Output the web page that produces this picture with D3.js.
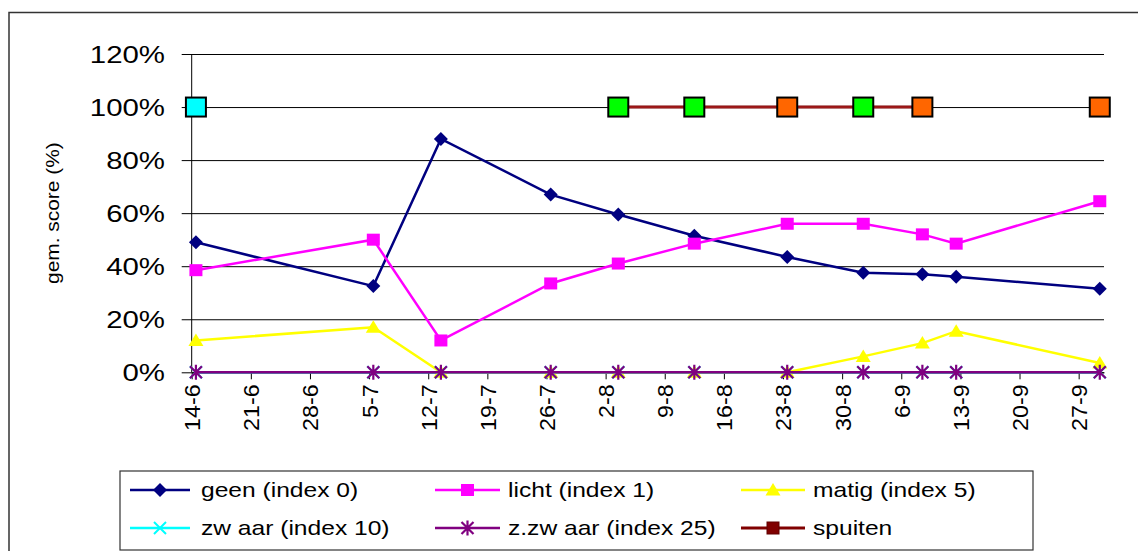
<!DOCTYPE html>
<html>
<head>
<meta charset="utf-8">
<script src="https://cdn.jsdelivr.net/npm/d3@7"></script>
<style>
  html, body { margin: 0; padding: 0; background: #fff; }
  svg { display: block; font-family: "Liberation Sans", Arial, sans-serif; }
</style>
</head>
<body>
<svg id="chart" width="1138" height="551"></svg>
<script>
// Waarnemingsdata per datum (dag-maand), seizoen juni-september
const year = 2007;
const dates = ["14-6", "5-7", "13-7", "26-7", "3-8", "12-8", "23-8", "1-9", "8-9", "12-9", "29-9"];
const geen   = [49, 32.5, 88, 67, 59.5, 51.5, 43.5, 37.5, 37, 36, 31.5];
const licht  = [38.5, 50, 12, 33.5, 41, 48.5, 56, 56, 52, 48.5, 64.5];
const matig  = [12, 17, 0, 0, 0, 0, 0, 6, 11, 15.5, 3.5];
const zwaar  = [0, 0, 0, 0, 0, 0, 0, 0, 0, 0, 0];
const zzwaar = [0, 0, 0, 0, 0, 0, 0, 0, 0, 0, 0];
const spuiten = [100, null, null, null, 100, 100, 100, 100, 100, null, 100];
const spuitType = ["a", null, null, null, "b", "b", "c", "b", "c", null, "c"];

const xTickLabels = ["14-6", "21-6", "28-6", "5-7", "12-7", "19-7", "26-7", "2-8", "9-8",
                     "16-8", "23-8", "30-8", "6-9", "13-9", "20-9", "27-9"];
const xDomain = ["14-6", "30-9"];
const yTicks = [0, 20, 40, 60, 80, 100, 120];

const seriesNames = ["geen (index 0)", "licht (index 1)", "matig (index 5)",
                     "zw aar (index 10)", "z.zw aar (index 25)", "spuiten"];

// ---- opmaak ----
const parse = d3.utcParse("%d-%m-%Y");
const toDate = s => parse(s + "-" + year);
const mid = s => d3.utcHour.offset(toDate(s), 12);   // punt midden op de dag

const X0 = 191.7, X1 = 1104, Y0 = 372.3, Y1 = 54;
const x = d3.scaleUtc().domain(xDomain.map(toDate)).range([X0, X1]);
const y = d3.scaleLinear().domain([0, 120]).range([Y0, Y1]);

const sprayColor = { a: "#00FFFF", b: "#00FF00", c: "#FF6600" };

const series = [
  { name: seriesNames[0], values: geen,   color: "#000080", marker: "diamond" },
  { name: seriesNames[1], values: licht,  color: "#FF00FF", marker: "square" },
  { name: seriesNames[2], values: matig,  color: "#FFFF00", marker: "triangle" },
  { name: seriesNames[3], values: zwaar,  color: "#00FFFF", marker: "x" },
  { name: seriesNames[4], values: zzwaar, color: "#800080", marker: "star" },
  { name: seriesNames[5], values: spuiten, color: "#800000", marker: "bigsquare" }
];

const svg = d3.select("#chart");

// kader om de grafiek
svg.append("rect")
  .attr("x", 9).attr("y", 12.5).attr("width", 1200).attr("height", 600)
  .attr("fill", "#fff").attr("stroke", "#333").attr("stroke-width", 1.5);

// rasterlijnen met uitstekende maatstreepjes
svg.append("g")
  .attr("transform", `translate(${X1},0)`)
  .call(d3.axisLeft(y).tickValues(yTicks).tickSize(X1 - X0 + 10).tickFormat(""))
  .call(g => g.select(".domain").remove())
  .call(g => g.selectAll(".tick line").attr("stroke", "#000").attr("stroke-width", 1));

// y-as lijn
svg.append("line")
  .attr("x1", X0).attr("x2", X0).attr("y1", y(120)).attr("y2", y(0))
  .attr("stroke", "#000").attr("stroke-width", 1);

// y-as labels
svg.append("g").selectAll("text")
  .data(yTicks).join("text")
  .attr("transform", d => `translate(165,${y(d)}) scale(1.2,1)`)
  .attr("text-anchor", "end").attr("dy", "0.36em")
  .attr("font-size", 24.5).attr("fill", "#000")
  .text(d => d + "%");

// y-as titel
svg.append("text")
  .attr("transform", `translate(52,${(Y0 + Y1) / 2}) rotate(-90) scale(1.1,1)`)
  .attr("text-anchor", "middle").attr("dy", "0.35em")
  .attr("font-size", 19).attr("fill", "#000")
  .text("gem. score (%)");

// x-as
const xAxis = svg.append("g")
  .attr("transform", `translate(0,${Y0})`)
  .call(d3.axisBottom(x).tickValues(xTickLabels.map(toDate)).tickSize(7).tickSizeOuter(0)
        .tickFormat(d3.utcFormat("%-d-%-m")));
xAxis.select(".domain").attr("stroke", "#000");
xAxis.selectAll(".tick line").attr("stroke", "#000");
xAxis.selectAll(".tick text")
  .attr("font-family", "Liberation Sans, Arial, sans-serif")
  .attr("font-size", 22).attr("fill", "#000")
  .attr("text-anchor", "end")
  .attr("x", 0).attr("y", 0).attr("dy", "0.36em")
  .attr("transform", "translate(0,12) rotate(-90) scale(1.06,1)");

// markers
function drawMarker(g, type, color, cx, cy, fillOverride) {
  if (type === "diamond") {
    g.append("path").attr("d", `M${cx},${cy - 7}L${cx + 7},${cy}L${cx},${cy + 7}L${cx - 7},${cy}Z`)
      .attr("fill", color);
  } else if (type === "square") {
    g.append("rect").attr("x", cx - 6.5).attr("y", cy - 6).attr("width", 13).attr("height", 12)
      .attr("fill", color);
  } else if (type === "triangle") {
    g.append("path").attr("d", `M${cx},${cy - 7}L${cx + 7.5},${cy + 5.5}L${cx - 7.5},${cy + 5.5}Z`)
      .attr("fill", color);
  } else if (type === "x") {
    g.append("path").attr("d", `M${cx - 6},${cy - 6}L${cx + 6},${cy + 6}M${cx - 6},${cy + 6}L${cx + 6},${cy - 6}`)
      .attr("stroke", color).attr("stroke-width", 2);
  } else if (type === "star") {
    g.append("path").attr("d", `M${cx - 6},${cy - 6}L${cx + 6},${cy + 6}M${cx - 6},${cy + 6}L${cx + 6},${cy - 6}M${cx},${cy - 7.5}L${cx},${cy + 7.5}`)
      .attr("stroke", color).attr("stroke-width", 2.2);
  } else if (type === "bigsquare") {
    g.append("rect").attr("x", cx - 10).attr("y", cy - 9.5).attr("width", 20).attr("height", 19)
      .attr("fill", fillOverride || color).attr("stroke", "#000").attr("stroke-width", 2);
  } else if (type === "legendsquare") {
    g.append("rect").attr("x", cx - 6).attr("y", cy - 6).attr("width", 12).attr("height", 12)
      .attr("fill", color).attr("stroke", "#600000").attr("stroke-width", 1);
  }
}

const plot = svg.append("g");
series.forEach(s => {
  const pts = dates.map((d, i) => ({ date: mid(d), v: s.values[i], i }));
  const line = d3.line()
    .defined(p => p.v !== null)
    .x(p => x(p.date)).y(p => y(p.v));
  if (s.marker === "bigsquare") {
    plot.append("path").datum(pts).attr("d", line)
      .attr("fill", "none").attr("stroke", s.color).attr("stroke-width", 3);
    plot.append("path").datum(pts).attr("d", line)
      .attr("fill", "none").attr("stroke", "#b83030").attr("stroke-width", 1);
  } else {
    plot.append("path").datum(pts).attr("d", line)
      .attr("fill", "none").attr("stroke", s.color).attr("stroke-width", 2.5);
  }
  const mg = plot.append("g");
  pts.filter(p => p.v !== null).forEach(p => {
    const fill = s.marker === "bigsquare" ? sprayColor[spuitType[p.i]] : null;
    drawMarker(mg, s.marker, s.color, x(p.date), y(p.v), fill);
  });
});

// legenda
const LX = 120, LY = 471, LW = 913, LH = 79;
svg.append("rect").attr("x", LX).attr("y", LY).attr("width", LW).attr("height", LH)
  .attr("fill", "#fff").attr("stroke", "#333").attr("stroke-width", 1.2);

const colLine = [[130, 190], [435, 500], [741, 805]];
const colText = [201, 508, 813];
const rowY = [490, 528];
const lg = svg.append("g");
series.forEach((s, i) => {
  const c = i % 3, r = Math.floor(i / 3);
  const [a, b] = colLine[c];
  const cy = rowY[r];
  lg.append("line").attr("x1", a).attr("x2", b).attr("y1", cy).attr("y2", cy)
    .attr("stroke", s.color).attr("stroke-width", s.marker === "bigsquare" ? 3 : 2.5);
  drawMarker(lg, s.marker === "bigsquare" ? "legendsquare" : s.marker, s.color, (a + b) / 2, cy);
  lg.append("text")
    .attr("transform", `translate(${colText[c]},${cy}) scale(1.2,1)`)
    .attr("dy", "0.36em").attr("font-size", 20.5).attr("fill", "#000")
    .text(s.name);
});
</script>
</body>
</html>
